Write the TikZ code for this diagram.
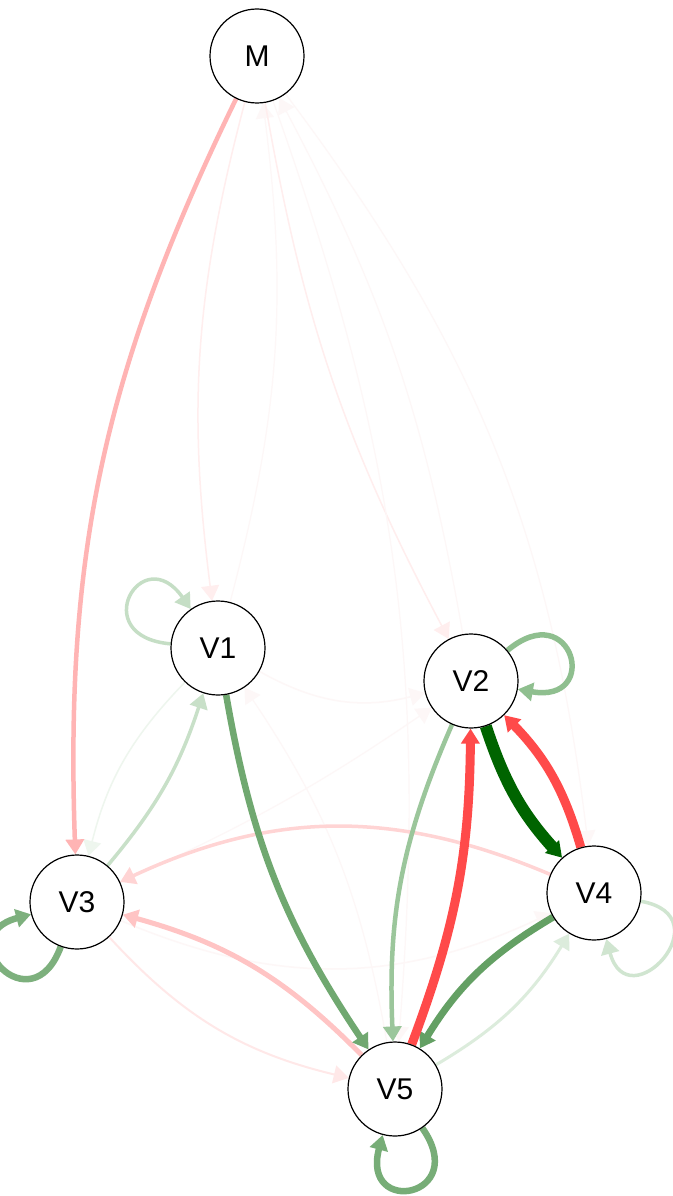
\documentclass[tikz,border=0pt]{standalone}
\usepackage{fontspec}
\setmainfont{Liberation Sans}
\usetikzlibrary{arrows.meta}
\pgfdeclarelayer{edgelayer}
\pgfsetlayers{edgelayer,main}
\definecolor{cMVthree}{RGB}{255,180,180}
\definecolor{cVfourVthree}{RGB}{255,212,212}
\definecolor{cVfiveVthree}{RGB}{255,196,196}
\definecolor{cVthreeVfive}{RGB}{255,232,232}
\definecolor{cred}{RGB}{255,74,74}
\definecolor{cdkgreen}{RGB}{0,100,0}
\definecolor{cVoneVfive}{RGB}{112,168,112}
\definecolor{cVfourVfive}{RGB}{100,160,100}
\definecolor{cVtwoVfive}{RGB}{155,198,155}
\definecolor{cVthreeVone}{RGB}{200,224,200}
\definecolor{cVfiveVfour}{RGB}{220,236,220}
\definecolor{cLoopOne}{RGB}{197,222,197}
\definecolor{cLoopTwo}{RGB}{143,191,143}
\definecolor{cLoopThree}{RGB}{125,176,125}
\definecolor{cLoopFour}{RGB}{208,229,208}
\definecolor{cLoopFive}{RGB}{119,173,119}
\definecolor{fpA}{RGB}{255,238,238}
\definecolor{fpB}{RGB}{253,247,247}
\definecolor{fgA}{RGB}{238,246,238}
\begin{document}
\begin{tikzpicture}[x=1pt,y=1pt,
  vnode/.style={circle,draw=black,line width=1.2pt,fill=white,minimum size=94pt,inner sep=0pt,font=\fontsize{30}{36}\selectfont},
  arr/.style={-{Triangle[length=15pt,width=18pt]}},
  loopedge/.style={arr,min distance=85pt}
  ]
\useasboundingbox (0,0) rectangle (672,-1196);
\node[vnode] (M)  at (257,-56)   {M};
\node[vnode] (V1) at (218,-648)  {V1};
\node[vnode] (V2) at (471,-681)  {V2};
\node[vnode] (V3) at (77,-902)   {V3};
\node[vnode] (V4) at (594,-893)  {V4};
\node[vnode] (V5) at (395,-1089) {V5};
\begin{pgfonlayer}{edgelayer}
\fill[white] (0,0) rectangle (672,-1196);
% faint edges
\draw[arr,line width=1.5pt,color=fpA] (M) to[bend right=11] (V1);
\draw[arr,line width=1.2pt,color=fpB] (V1) to[bend right=11] (M);
\draw[arr,line width=1.5pt,color=fpA] (M) to[bend right=9] (V2);
\draw[arr,line width=1.2pt,color=fpB] (V2) to[bend right=9] (M);
\draw[arr,line width=1.2pt,color=fpB] (M) to[bend left=15] (V4);
\draw[arr,line width=1.2pt,color=fpB] (M) to[bend left=12] (V5);
\draw[arr,line width=1.5pt,color=fpB] (V1) to[bend right=22] (V2);
\draw[arr,line width=1.2pt,color=fpB] (V3) to[bend right=5] (V2);
\draw[arr,line width=1.2pt,color=fpB] (V5) to[bend right=12] (V1);
\draw[arr,line width=1.5pt,color=fgA] (V1) to[bend right=15] (V3);
\draw[arr,line width=1.5pt,color=fpB] (V3) to[bend right=24] (V4);
\draw[arr,line width=2pt,color=cVthreeVfive] (V3) to[bend right=17] (V5);
% loops
\draw[loopedge,line width=3.5pt,color=cLoopOne] (V1) to[out=175,in=125] (V1);
\draw[loopedge,line width=5.5pt,color=cLoopTwo] (V2) to[out=40,in=-10] (V2);
\draw[loopedge,line width=6.5pt,color=cLoopThree] (V3) to[out=250,in=195] (V3);
\draw[loopedge,line width=3.5pt,color=cLoopFour] (V4) to[out=-10,in=-75] (V4);
\draw[loopedge,line width=6.5pt,color=cLoopFive] (V5) to[out=-55,in=-105] (V5);
% main edges
\draw[arr,line width=3.5pt,color=cVfourVthree] (V4) to[bend right=24] (V3);
\draw[arr,line width=3pt,color=cVfiveVfour] (V5) to[bend right=14] (V4);
\draw[arr,line width=3.5pt,color=cVthreeVone] (V3) to[bend right=11] (V1);
\draw[arr,line width=5pt,color=cVfiveVthree] (V5) to[bend right=15] (V3);
\draw[arr,line width=4.5pt,color=cVtwoVfive] (V2) to[bend right=13] (V5);
\draw[arr,line width=4.5pt,color=cMVthree] (M) to[bend right=14] (V3);
\draw[arr,line width=6.5pt,color=cVoneVfive] (V1) to[bend right=12] (V5);
\draw[arr,line width=7pt,color=cVfourVfive] (V4) to[bend right=14] (V5);
\draw[arr,line width=9pt,color=cred] (V5) to[bend right=10] (V2);
\draw[arr,line width=9pt,color=cred] (V4) to[bend right=14] (V2);
\draw[arr,line width=12pt,color=cdkgreen] (V2) to[bend right=12] (V4);
\end{pgfonlayer}
\end{tikzpicture}
\end{document}
